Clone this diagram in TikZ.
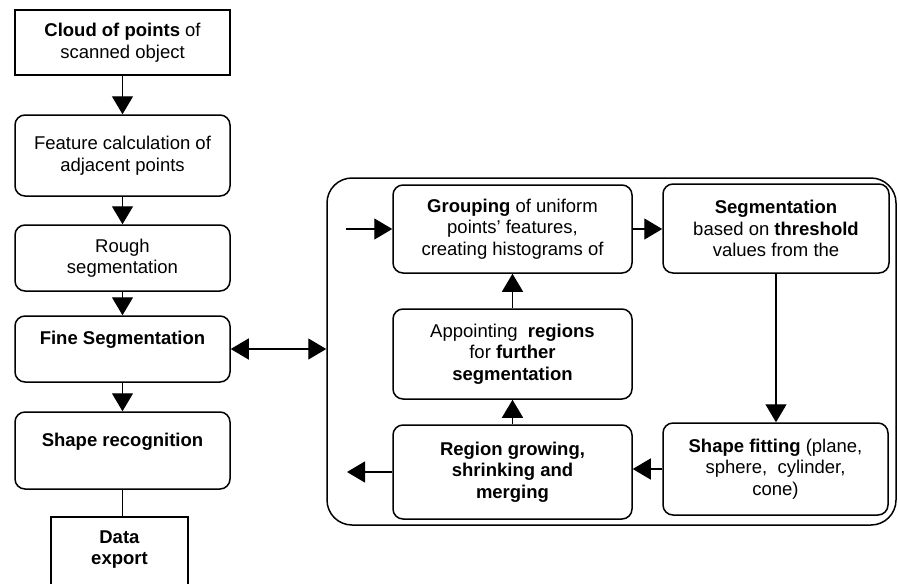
\documentclass[tikz,border=0pt]{standalone}
\usepackage{fontspec}
\setmainfont{Liberation Sans}
\usepackage{tikz}
\usetikzlibrary{arrows.meta}
\newcommand{\myFont}{\fontsize{18.5}{21.5}\selectfont}
\tikzset{myBox/.style={draw, line width=1.5pt, inner sep=2pt, align=center, font=\myFont}}
\tikzset{myRoundBox/.style={myBox, rounded corners=10pt}}
\tikzset{myArrow/.style={line width=1.4pt, -{Triangle[length=18pt,width=21pt]}}}
\tikzset{myTwoArrow/.style={line width=1.4pt, {Triangle[length=18pt,width=21pt]}-{Triangle[length=18pt,width=21pt]}}}
\tikzset{myLine/.style={line width=1.4pt}}

\begin{document}
\begin{tikzpicture}[x=1pt,y=-1pt]
	\useasboundingbox (0,0) rectangle (898,584);
	\clip (0,0) rectangle (898,584);
	% left column
	\node[myBox, minimum width=215pt, minimum height=65pt] (cloud) at (122.5,42.5) {\textbf{Cloud of points} of\\scanned object};
	\node[myRoundBox, minimum width=215pt, minimum height=81pt] (feature) at (122.5,155.5) {Feature calculation of\\adjacent points};
	\node[myRoundBox, minimum width=215pt, minimum height=66pt] (rough) at (122.5,258) {Rough\\segmentation};
	\node[myRoundBox, minimum width=215pt, minimum height=66pt] (fine) at (122.5,349) {\textbf{Fine Segmentation}\\ \mbox{}};
	\node[myRoundBox, minimum width=215pt, minimum height=77pt] (shaperec) at (122.5,450.5) {\textbf{Shape recognition}\\ \mbox{}};
	\node[myBox, minimum width=137pt, minimum height=83pt] (export) at (119.5,558.5) {\textbf{Data}\\\textbf{export}\\ \mbox{}};
	
	\draw[myArrow] (cloud.south) -- (feature.north);
	\draw[myArrow] (feature.south) -- (rough.north);
	\draw[myArrow] (rough.south) -- (fine.north);
	\draw[myArrow] (fine.south) -- (shaperec.north);
	\draw[myLine] (shaperec.south) -- (shaperec.south |- export.north);
	
	% segmentation loop
	\node[myBox, rounded corners=25pt, minimum width=569pt, minimum height=347pt] (loop) at (611.5,351.5) {};
	\node[myRoundBox, minimum width=239pt, minimum height=88pt] (grouping) at (512.5,229) {\textbf{Grouping} of uniform\\points’ features,\\creating histograms of};
	\node[myRoundBox, minimum width=226pt, minimum height=89pt] (seg) at (776,228.5) {\textbf{Segmentation}\\based on \textbf{threshold}\\values from the};
	\node[myRoundBox, minimum width=239pt, minimum height=90pt] (appoint) at (512.5,354) {Appointing \ \textbf{regions}\\for \textbf{further}\\\textbf{segmentation}};
	\node[myRoundBox, minimum width=239pt, minimum height=94pt] (region) at (512.5,472) {\textbf{Region growing,}\\\textbf{shrinking and}\\\textbf{merging}};
	\node[myRoundBox, minimum width=225pt, minimum height=92pt] (fit) at (775.5,469) {\textbf{Shape fitting} (plane,\\sphere, \ cylinder,\\cone)};
	\coordinate (in) at (346,229);
	\coordinate (out) at (347,472);
	
	\draw[myTwoArrow] (fine.east) -- (fine.east -| loop.west);
	\draw[myArrow] (in) -- (grouping.west);
	\draw[myArrow] (grouping.east) -- (grouping.east -| seg.west);
	\draw[myArrow] (seg.south) -- (seg.south |- fit.north);
	\draw[myArrow] (fit.west) -- (fit.west -| region.east);
	\draw[myArrow] (region.north) -- (appoint.south);
	\draw[myArrow] (appoint.north) -- (grouping.south);
	\draw[myArrow] (region.west) -- (out);
\end{tikzpicture}
\end{document}
